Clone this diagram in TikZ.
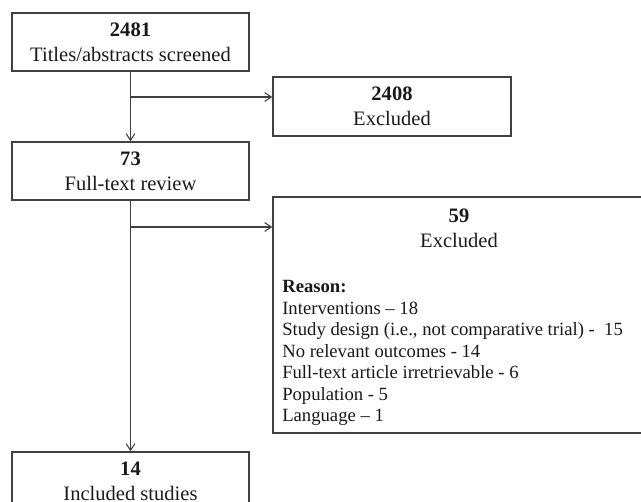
\documentclass[tikz,border=0pt]{standalone}
\usepackage{fontspec}
\setmainfont{Liberation Serif}
\usetikzlibrary{arrows.meta}
\begin{document}
\begin{tikzpicture}[x=0.75pt,y=-0.75pt,
  box/.style={draw=black!75, line width=1pt, inner sep=0pt, align=center,
    font=\fontsize{15.4}{18.75}\selectfont, text=black!90},
  arr/.style={draw=black!75, line width=0.8pt, -{Straight Barb[length=5pt,width=6.5pt]}},
  lnk/.style={draw=black!75, line width=0.8pt},
  lst/.style={anchor=base west, inner sep=0pt, font=\fontsize{14}{16}\selectfont, text=black!90},
  hd/.style={anchor=base, inner sep=0pt, font=\fontsize{15.4}{18}\selectfont, text=black!90}]
\useasboundingbox (0,0) rectangle (641,502);
\clip (0,0) rectangle (641,502);
% boxes
\node[box, minimum width=177.75pt, minimum height=43.5pt] (b1) at (130.5,42)
  {\textbf{2481}\\Titles/abstracts screened};
\node[box, minimum width=178.5pt, minimum height=44.25pt] (b2) at (392,106.5)
  {\textbf{2408}\\Excluded};
\node[box, minimum width=177.75pt, minimum height=43.5pt] (b3) at (130.5,171)
  {\textbf{73}\\Full-text review};
\node[box, minimum width=279pt, minimum height=177pt] (b4) at (459,315) {};
\node[box, minimum width=177.75pt, minimum height=43.5pt] (b5) at (130.5,481) {};
\node[hd] (n14) at (130.5,475) {\textbf{14}};
\node[hd] (ninc) at (130.5,500) {Included studies};
% box 4 text
\node[hd] (n59) at (459,222) {\textbf{59}};
\node[hd] (nex) at (459,247) {Excluded};
\node[lst] (r0) at (282,292) {\textbf{Reason:}};
\node[lst] (r1) at (282,314) {Interventions -- 18};
\node[lst] (r2) at (282,335.5) {Study design (i.e., not comparative trial) -\ \ 15};
\node[lst] (r3) at (282,357) {No relevant outcomes - 14};
\node[lst] (r4) at (282,378.5) {Full-text article irretrievable - 6};
\node[lst] (r5) at (282,400) {Population - 5};
\node[lst] (r6) at (282,421.5) {Language -- 1};
% connectors
\coordinate (j1) at (130.5,97);
\coordinate (j2) at (130.5,227);
\draw[arr] (b1.south) -- (b3.north);
\draw[arr] (j1) -- (j1 -| b2.west);
\draw[arr] (b3.south) -- (b5.north);
\draw[arr] (j2) -- (j2 -| b4.west);
\end{tikzpicture}
\end{document}
